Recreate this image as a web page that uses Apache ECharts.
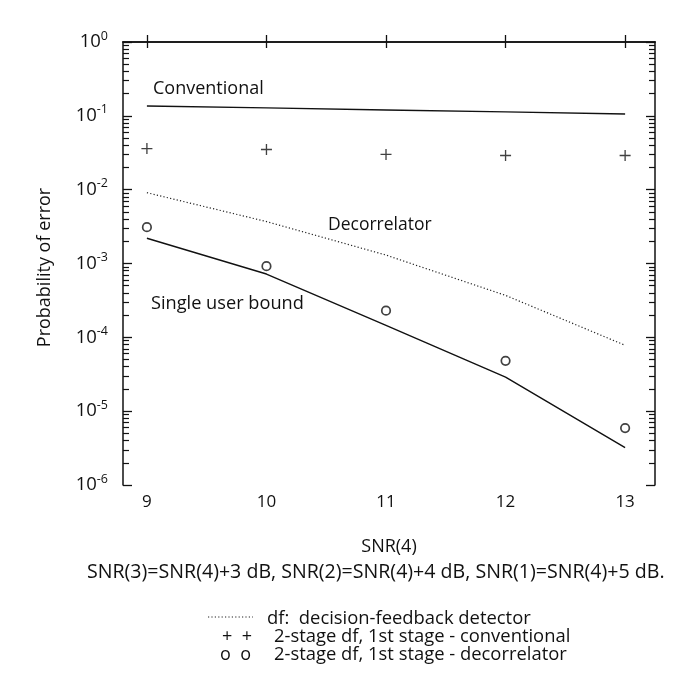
<!DOCTYPE html>
<html>
<head>
<meta charset="utf-8">
<script src="https://cdn.jsdelivr.net/npm/echarts@6/dist/echarts.min.js"></script>
<style>
  html, body { margin: 0; padding: 0; background: #fff; }
  #chart { width: 698px; height: 691px; }
</style>
</head>
<body>
<div id="chart"></div>
<script>
// SNR(4) in dB
const snr = [9, 10, 11, 12, 13];
const conventional = [0.136, 0.128, 0.120, 0.113, 0.106];
const dfDetector = [0.0091, 0.0037, 0.0013, 0.00037, 0.000078];
const singleUser = [0.0022, 0.00072, 0.000145, 0.000029, 0.0000032];
const twoStageConv = [0.036, 0.035, 0.030, 0.029, 0.029];
const twoStageDecor = [0.0031, 0.00092, 0.00023, 0.000048, 0.0000059];

const xTicks = [9, 10, 11, 12, 13];
const yExponents = [-6, -5, -4, -3, -2, -1, 0];
const minorMultipliers = [2, 3, 4, 5, 6, 7, 8, 9];

const fontFamily = '"Open Sans", "Noto Sans", sans-serif';
const ink = '#111';

// minor tick positions in log10 units
const minorTicks = [];
yExponents.slice(0, -1).forEach(function (e) {
  minorMultipliers.forEach(function (m) {
    minorTicks.push(e + Math.log10(m));
  });
});

function pairs(ys) {
  return snr.map(function (x, i) { return [x, ys[i]]; });
}

const plusPath = 'path://M4.4,0H5.6V4.4H10V5.6H5.6V10H4.4V5.6H0V4.4H4.4Z';

const myChart = echarts.init(document.getElementById('chart'));

var option = {
  animation: false,
  backgroundColor: '#fff',
  grid: { left: 123, top: 42, right: 43, bottom: 206 },
  xAxis: [
    {
      type: 'value',
      min: 8.8,
      max: 13.25,
      position: 'bottom',
      name: 'SNR(4)',
      nameLocation: 'middle',
      nameGap: 53,
      nameTextStyle: { fontFamily: fontFamily, fontSize: 18, color: ink },
      axisLine: { show: true, lineStyle: { color: ink, width: 1.5 } },
      axisTick: { inside: true, length: 7, customValues: xTicks, lineStyle: { color: ink, width: 1.3 } },
      axisLabel: { customValues: xTicks, margin: 9, fontFamily: fontFamily, fontSize: 17, color: ink },
      splitLine: { show: false }
    },
    {
      type: 'value',
      min: 8.8,
      max: 13.25,
      position: 'top',
      axisLine: { show: true, lineStyle: { color: ink, width: 1.5 } },
      axisTick: { inside: true, length: 6, customValues: xTicks, lineStyle: { color: ink, width: 1.3 } },
      axisLabel: { show: false },
      splitLine: { show: false }
    }
  ],
  yAxis: [
    {
      // data axis
      type: 'log',
      logBase: 10,
      min: 1e-6,
      max: 1,
      show: false,
      splitLine: { show: false }
    },
    {
      type: 'value',
      min: -6,
      max: 0,
      interval: 1,
      position: 'left',
      name: 'Probability of error',
      nameLocation: 'middle',
      nameRotate: 90,
      nameGap: 69,
      nameTextStyle: { fontFamily: fontFamily, fontSize: 18, color: ink, padding: [0, 8, 0, 0] },
      axisLine: { show: true, lineStyle: { color: ink, width: 1.5 } },
      axisTick: { inside: true, length: 9, lineStyle: { color: ink, width: 1.3 } },
      axisLabel: {
        margin: 15,
        formatter: function (v) { return '{b|10}{s|' + Math.round(v) + '}'; },
        rich: {
          b: { fontFamily: fontFamily, fontSize: 18.5, color: ink },
          s: { fontFamily: fontFamily, fontSize: 12.5, color: ink, padding: [0, 0, 12, 0] }
        }
      },
      splitLine: { show: false }
    },
    {
      type: 'value',
      min: -6,
      max: 0,
      position: 'left',
      axisLine: { show: false },
      axisTick: { inside: true, length: 6, customValues: minorTicks, lineStyle: { color: ink, width: 1.2 } },
      axisLabel: { show: false },
      splitLine: { show: false }
    },
    {
      type: 'value',
      min: -6,
      max: 0,
      interval: 1,
      position: 'right',
      axisLine: { show: true, lineStyle: { color: ink, width: 1.5 } },
      axisTick: { inside: true, length: 9, lineStyle: { color: ink, width: 1.3 } },
      axisLabel: { show: false },
      splitLine: { show: false }
    },
    {
      type: 'value',
      min: -6,
      max: 0,
      position: 'right',
      axisLine: { show: false },
      axisTick: { inside: true, length: 6, customValues: minorTicks, lineStyle: { color: ink, width: 1.2 } },
      axisLabel: { show: false },
      splitLine: { show: false }
    }
  ],
  series: [
    {
      name: 'Conventional',
      type: 'line',
      data: pairs(conventional),
      showSymbol: false,
      lineStyle: { color: ink, width: 1.4 }
    },
    {
      name: 'df: decision-feedback detector',
      type: 'line',
      data: pairs(dfDetector),
      showSymbol: false,
      lineStyle: { color: '#222', width: 1.2, type: [1.2, 2.2] }
    },
    {
      name: 'Single user bound',
      type: 'line',
      data: pairs(singleUser),
      showSymbol: false,
      lineStyle: { color: ink, width: 1.4 }
    },
    {
      name: '2-stage df, 1st stage - conventional',
      type: 'scatter',
      data: pairs(twoStageConv),
      symbol: plusPath,
      symbolSize: 11,
      itemStyle: { color: ink }
    },
    {
      name: '2-stage df, 1st stage - decorrelator',
      type: 'scatter',
      data: pairs(twoStageDecor),
      symbol: 'circle',
      symbolSize: 8.5,
      itemStyle: { color: '#fff', borderColor: ink, borderWidth: 1.7 }
    }
  ],
  graphic: [
    { type: 'text', left: 153, top: 80, style: { text: 'Conventional', font: '18px ' + fontFamily, fill: ink } },
    { type: 'text', left: 328, top: 216, style: { text: 'Decorrelator', font: '17.5px ' + fontFamily, fill: ink } },
    { type: 'text', left: 151, top: 295, style: { text: 'Single user bound', font: '18.2px ' + fontFamily, fill: ink } },
    { type: 'text', left: 87, top: 562, style: { text: 'SNR(3)=SNR(4)+3 dB, SNR(2)=SNR(4)+4 dB, SNR(1)=SNR(4)+5 dB.', font: '19.6px ' + fontFamily, fill: ink } },
    { type: 'line', shape: { x1: 208, y1: 617, x2: 253, y2: 617 }, style: { stroke: '#222', lineWidth: 1.2, lineDash: [1.2, 2.2] } },
    { type: 'text', left: 222, top: 628, style: { text: '+  +', font: '18px ' + fontFamily, fill: ink } },
    { type: 'text', left: 220, top: 646, style: { text: 'o  o', font: '18px ' + fontFamily, fill: ink } },
    { type: 'text', left: 267, top: 610, style: { text: 'df:  decision-feedback detector', font: '18.4px ' + fontFamily, fill: ink } },
    { type: 'text', left: 274, top: 628, style: { text: '2-stage df, 1st stage - conventional', font: '18.4px ' + fontFamily, fill: ink } },
    { type: 'text', left: 274, top: 646, style: { text: '2-stage df, 1st stage - decorrelator', font: '18.4px ' + fontFamily, fill: ink } }
  ]
};

myChart.setOption(option);
</script>
</body>
</html>
